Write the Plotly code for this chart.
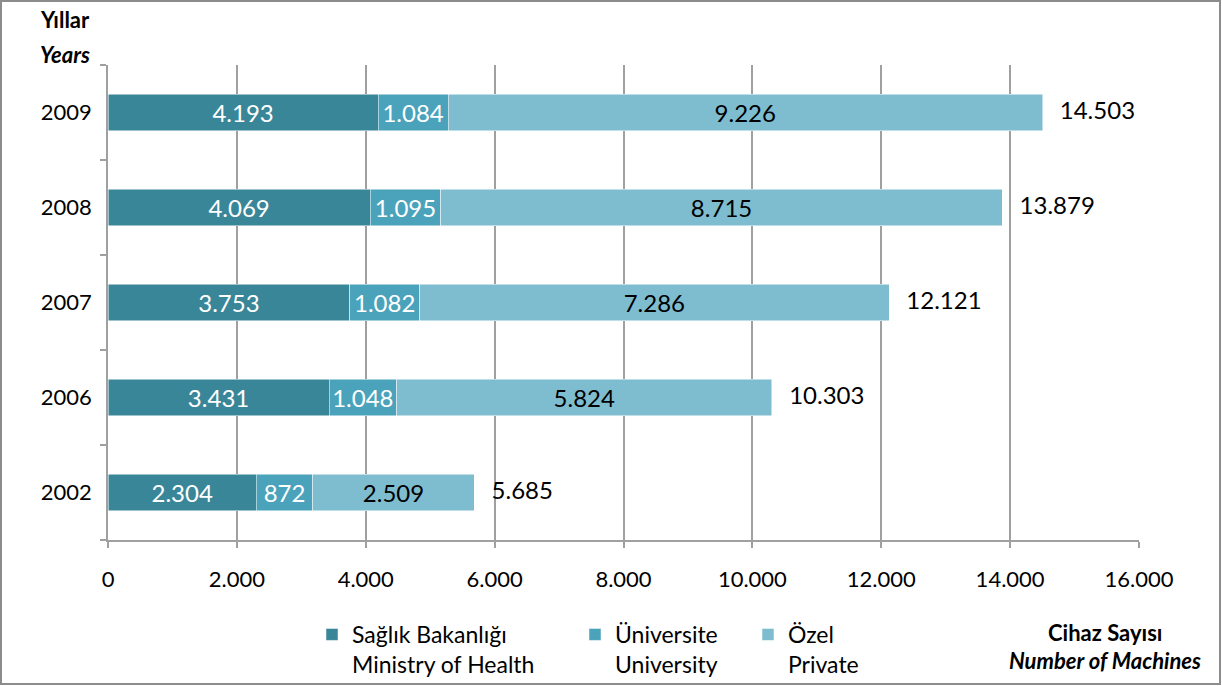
import plotly.graph_objects as go

years = ["2002", "2006", "2007", "2008", "2009"]
ministry = [2304, 3431, 3753, 4069, 4193]
university = [872, 1048, 1082, 1095, 1084]
private = [2509, 5824, 7286, 8715, 9226]
totals = [a + b + c for a, b, c in zip(ministry, university, private)]

series_names = [
    "Sağlık Bakanlığı<br>Ministry of Health",
    "Üniversite<br>University",
    "Özel<br>Private",
]
colors = ["#3A8699", "#4AA3BB", "#7EBCD0"]
text_colors = ["white", "white", "black"]

FONT = "Lato"
W, H = 1222, 686
L, R, T, B = 108, 83, 65, 146
PW, PH = W - L - R, H - T - B


def px(x):
    return (x - L) / PW


def py(y):
    return (H - B - y) / PH


fig = go.Figure()
for i, (vals, name) in enumerate(zip([ministry, university, private], series_names)):
    fig.add_trace(go.Bar(
        y=years, x=vals, orientation="h", name=name,
        marker=dict(color=colors[i], line=dict(color="white", width=0.5)),
        texttemplate="%{x:,}", textposition="inside", insidetextanchor="middle",
        textfont=dict(family=FONT, size=24, color=text_colors[i]),
        constraintext="none", showlegend=True,
        legend=["legend", "legend2", "legend3"][i],
    ))

# total labels
fig.add_trace(go.Scatter(
    x=totals, y=years, mode="markers+text", texttemplate="%{x:,}",
    textposition="middle right", marker=dict(size=26, opacity=0),
    textfont=dict(family=FONT, size=24, color="black"),
    showlegend=False, hoverinfo="skip",
))

# axis titles
title_font = dict(family=FONT, size=22, color="black")
for xp, yp, txt in [(65, 20, "<b>Yıllar</b>"), (65, 55, "<b><i>Years</i></b>"),
                    (1105, 632, "<b>Cihaz Sayısı</b>"),
                    (1105, 660, "<b><i>Number of Machines</i></b>")]:
    fig.add_annotation(x=px(xp), y=py(yp), xref="paper", yref="paper", text=txt,
                       xanchor="center", yanchor="middle", showarrow=False, font=title_font)

# outer border
fig.add_shape(type="rect", xref="paper", yref="paper",
              x0=px(1), x1=px(W - 2), y0=py(H - 2), y1=py(1),
              line=dict(color="#8C8C8C", width=2), fillcolor="rgba(0,0,0,0)", layer="below")

leg_common = dict(orientation="h", yanchor="top", valign="top", bgcolor="rgba(0,0,0,0)",
                  font=dict(family=FONT, size=23, color="black"), itemclick=False)

fig.update_layout(
    width=W, height=H,
    margin=dict(l=L, r=R, t=T, b=B, autoexpand=False),
    barmode="stack", bargap=0.62,
    separators=",.",
    showlegend=True,
    plot_bgcolor="white", paper_bgcolor="white",
    font=dict(family=FONT, size=22, color="black"),
    legend=dict(x=px(312), y=py(613), **leg_common),
    legend2=dict(x=px(575), y=py(613), **leg_common),
    legend3=dict(x=px(748), y=py(613), **leg_common),
    xaxis=dict(range=[0, 16000], dtick=2000, tickformat=",d",
               showgrid=True, gridcolor="#A0A0A0", gridwidth=1.5,
               showline=True, linecolor="#A0A0A0", linewidth=1.5,
               ticks="outside", ticklen=6, tickcolor="#A0A0A0", tickwidth=1.5,
               ticklabelstandoff=13, zeroline=False, automargin=False,
               tickfont=dict(family=FONT, size=22, color="black")),
    yaxis=dict(type="category", categoryorder="array", categoryarray=years,
               range=[-0.5, len(years) - 0.5], automargin=False,
               showline=True, linecolor="#A0A0A0", linewidth=1.5,
               ticks="outside", ticklen=6, tickcolor="#A0A0A0", tickwidth=1.5,
               tickson="boundaries", ticklabelstandoff=10,
               showgrid=False, zeroline=False,
               tickfont=dict(family=FONT, size=22, color="black")),
)

fig.write_html("out.html", config={"displayModeBar": False},
               post_script="document.body.style.margin='0';")
